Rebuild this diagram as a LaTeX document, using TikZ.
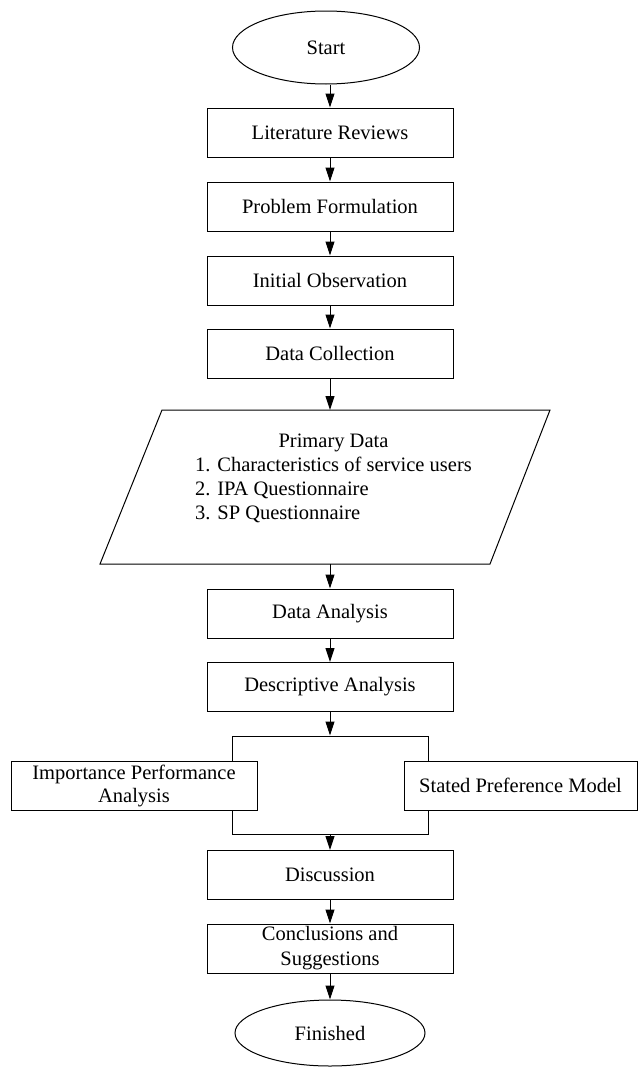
\documentclass[tikz,border=0pt]{standalone}
\usepackage{fontspec}
\setmainfont{Liberation Serif}
\usetikzlibrary{shapes.geometric,arrows.meta}
\begin{document}
\begin{tikzpicture}[x=1pt,y=-1pt,
  every node/.style={font=\fontsize{20.5}{24}\selectfont},
  box/.style={draw, line width=1pt, fill=white, minimum height=49pt, inner sep=0pt, align=center},
  term/.style={draw, ellipse, line width=1pt, inner sep=0pt},
  arr/.style={line width=1pt, -{Triangle[length=14pt,width=9pt]}},
]
\useasboundingbox (0,0) rectangle (638,1068);
\node[term, minimum width=187pt, minimum height=73pt] (start) at (326,47.5) {Start};
\node[box, minimum width=246pt] (lit) at (330,132.5) {Literature Reviews};
\node[box, minimum width=246pt] (prob) at (330,206.5) {Problem Formulation};
\node[box, minimum width=246pt] (init) at (330,280.5) {Initial Observation};
\node[box, minimum width=246pt] (dc) at (330,353.5) {Data Collection};
% parallelogram
\coordinate (ptop) at (330,410);
\coordinate (pbot) at (330,564);
\draw[line width=1pt] (162,410) -- (550,410) -- (490,564) -- (100,564) -- cycle;
\node (prim) at (333.5,479) {\begin{tabular}{@{}l@{}}\multicolumn{1}{@{}c@{}}{Primary Data}\\ 1. Characteristics of service users\\ 2. IPA Questionnaire\\ 3. SP Questionnaire\end{tabular}};
\node[box, minimum width=246pt] (da) at (330,613.5) {Data Analysis};
\node[box, minimum width=246pt] (desc) at (330,687) {Descriptive Analysis};
\node[draw, line width=1pt, minimum width=196pt, minimum height=98pt, inner sep=0pt] (join) at (330,785) {};
\node[box, minimum width=246pt, font=\fontsize{20.5}{23}\selectfont] (ipa) at (134,785.5) {Importance Performance\\Analysis};
\node[box, minimum width=233pt] (sp) at (520.5,785.5) {Stated Preference Model};
\node[box, minimum width=246pt] (disc) at (330,875) {Discussion};
\node[box, minimum width=246pt, font=\fontsize{20.5}{25}\selectfont] (conc) at (330,948.5) {Conclusions and\\Suggestions};
\node[term, minimum width=190pt, minimum height=66pt] (fin) at (330,1033) {Finished};
% connectors
\draw[arr] (lit.north |- start.south) -- (lit.north);
\draw[arr] (lit.south) -- (prob.north);
\draw[arr] (prob.south) -- (init.north);
\draw[arr] (init.south) -- (dc.north);
\draw[arr] (dc.south) -- (ptop);
\draw[arr] (pbot) -- (da.north);
\draw[arr] (da.south) -- (desc.north);
\draw[arr] (desc.south) -- (join.north);
\draw[arr] (join.south) -- (disc.north);
\draw[arr] (disc.south) -- (conc.north);
\draw[arr] (conc.south) -- (fin.north);
\end{tikzpicture}
\end{document}
